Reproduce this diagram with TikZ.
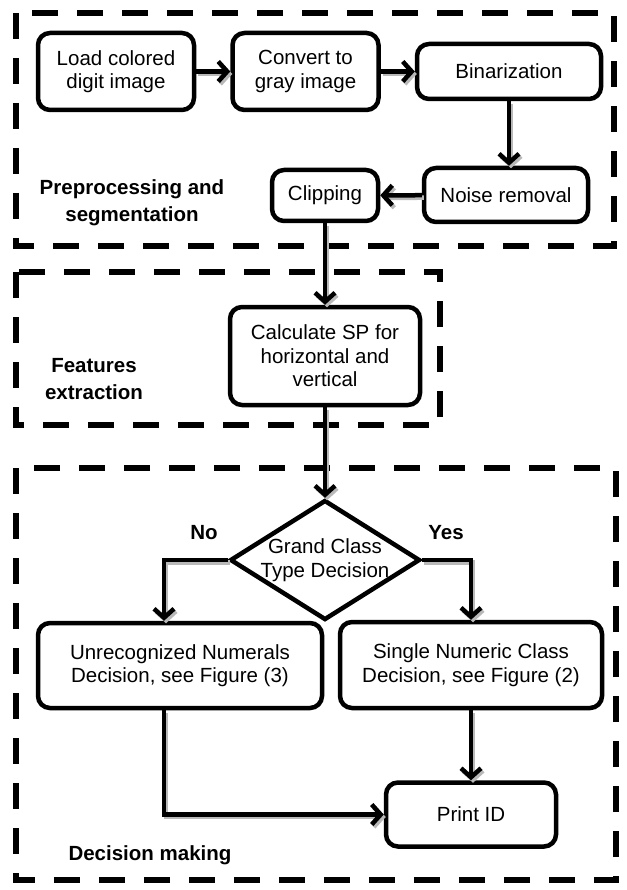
\documentclass[tikz,border=0pt]{standalone}
\usepackage{fontspec}
\setmainfont{Liberation Sans}
\usepackage{tikz}
\usetikzlibrary{positioning, arrows.meta, shapes.geometric}

\begin{document}
\begin{tikzpicture}[
  x=1pt, y=-1pt,
  font=\fontsize{20.5}{23.5}\selectfont,
  procbox/.style={draw, line width=4.5pt, rounded corners=12pt, align=center, inner sep=2pt},
  decbox/.style={draw, diamond, line width=4.5pt, align=center, shape aspect=1.58, inner sep=-3pt, minimum width=190pt, minimum height=120pt},
  groupbox/.style={draw, line width=5.5pt, dash pattern=on 26pt off 19pt},
  grouplabel/.style={font=\fontsize{20.5}{27}\selectfont\bfseries, align=center},
  arrow/.style={line width=4.5pt, -{Straight Barb[length=9pt, width=20pt]},
    preaction={draw=gray!55, line width=4.5pt, transform canvas={shift={(2pt,-2.5pt)}}}},
]
  \useasboundingbox (0,0) rectangle (626,890);

  % Dashed stage frames
  \draw [groupbox] (16,13) rectangle (614,246);
  \draw [groupbox] (16,272) rectangle (440,425);
  \draw [groupbox] (16,468) rectangle (616,880);

  % Preprocessing and segmentation
  \node (load) [procbox, minimum width=156pt, minimum height=77pt] at (116,71.5) {Load colored\\digit image};
  \node (convert) [procbox, minimum width=146pt, minimum height=77pt, right=34pt of load] {Convert to\\gray image};
  \node (binar) [procbox, minimum width=184pt, minimum height=55pt, right=34pt of convert] {Binarization};
  \node (noise) [procbox, minimum width=164pt, minimum height=54pt] at (506,195) {Noise removal};
  \node (clip) [procbox, minimum width=106pt, minimum height=51pt] at (325,195.5) {Clipping};
  \node (lblpre) [grouplabel] at (132,203) {Preprocessing and\\segmentation};

  % Features extraction
  \node (calc) [procbox, minimum width=190pt, minimum height=98pt] at (325,356) {Calculate SP for\\horizontal and\\vertical};
  \node (lblfeat) [grouplabel] at (94,379) {Features\\extraction};

  % Decision making
  \node (dec) [decbox] at (325,560) {Grand Class\\Type Decision};
  \node (unrec) [procbox, minimum width=284pt, minimum height=85pt] at (180,665.5) {Unrecognized Numerals\\Decision, see Figure (3)};
  \node (single) [procbox, minimum width=262pt, minimum height=86pt] at (471,665) {Single Numeric Class\\Decision, see Figure (2)};
  \node (printid) [procbox, minimum width=170pt, minimum height=64pt, below=70pt of single] {Print ID};
  \node (lblno) [grouplabel] at (204,533) {No};
  \node (lblyes) [grouplabel] at (446,533) {Yes};
  \node (lbldec) [grouplabel] at (150,855) {Decision making};

  % Connectors
  \draw [arrow] (load) -- (convert);
  \draw [arrow] (convert.east) -- (convert.east -| binar.west);
  \draw [arrow] (binar.south) -- (binar.south |- noise.north);
  \draw [arrow] (noise) -- (clip);
  \draw [arrow] (clip) -- (calc);
  \draw [arrow] (calc) -- (dec);
  \draw [arrow] (dec.west) -| ([xshift=-16pt]unrec.north);
  \draw [arrow] (dec.east) -| (single.north);
  \draw [arrow] (single) -- (printid);
  \draw [arrow] ([xshift=-16pt]unrec.south) |- (printid.west);

\end{tikzpicture}
\end{document}
